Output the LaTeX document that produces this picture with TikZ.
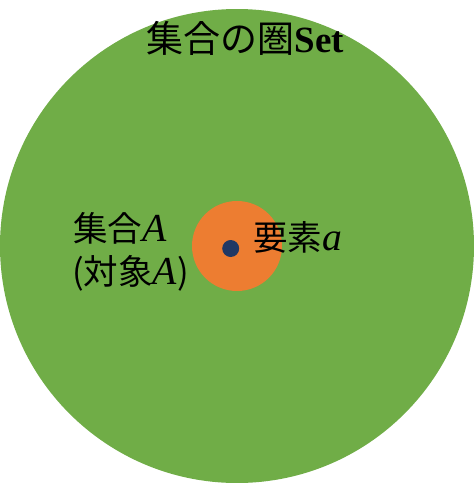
\documentclass[tikz,border=0pt]{standalone}
\usepackage{fontspec}
\newfontfamily\cjk{Noto Sans CJK JP}
\newfontfamily\serifit[Scale=1.15]{Liberation Serif}
\newfontfamily\serifb{Liberation Serif}
\newcommand{\mvar}[1]{{\serifit\itshape #1}}
\begin{document}
\begin{tikzpicture}[x=1pt,y=-1pt,
  disc/.style={circle, inner sep=0pt, draw=none},
  lbl/.style={inner sep=0pt, font=\fontsize{34.5}{44}\selectfont\cjk, text=black}]
\useasboundingbox (0,0) rectangle (474,483);
\node[disc, fill={rgb,255:red,112;green,173;blue,71}, minimum size=474pt] (set) at (237,246) {};
\node[disc, fill={rgb,255:red,237;green,125;blue,49}, minimum size=90pt] (A) at (237,246) {};
\node[disc, fill={rgb,255:red,32;green,56;blue,100}, minimum size=17pt] (a) at (230.7,248.5) {};
\node[lbl, font=\fontsize{37}{44}\selectfont\cjk] (title) at (245.5,38) {集合の圏{\serifb\bfseries Set}};
\node[lbl, anchor=west] (setA) at (73,228) {集合\mvar{A}};
\node[lbl, anchor=west] (objA) at (72,273) {(対象\mvar{A})};
\node[lbl, anchor=west] (elem) at (253,237) {要素\mvar{a}};
\end{tikzpicture}
\end{document}
